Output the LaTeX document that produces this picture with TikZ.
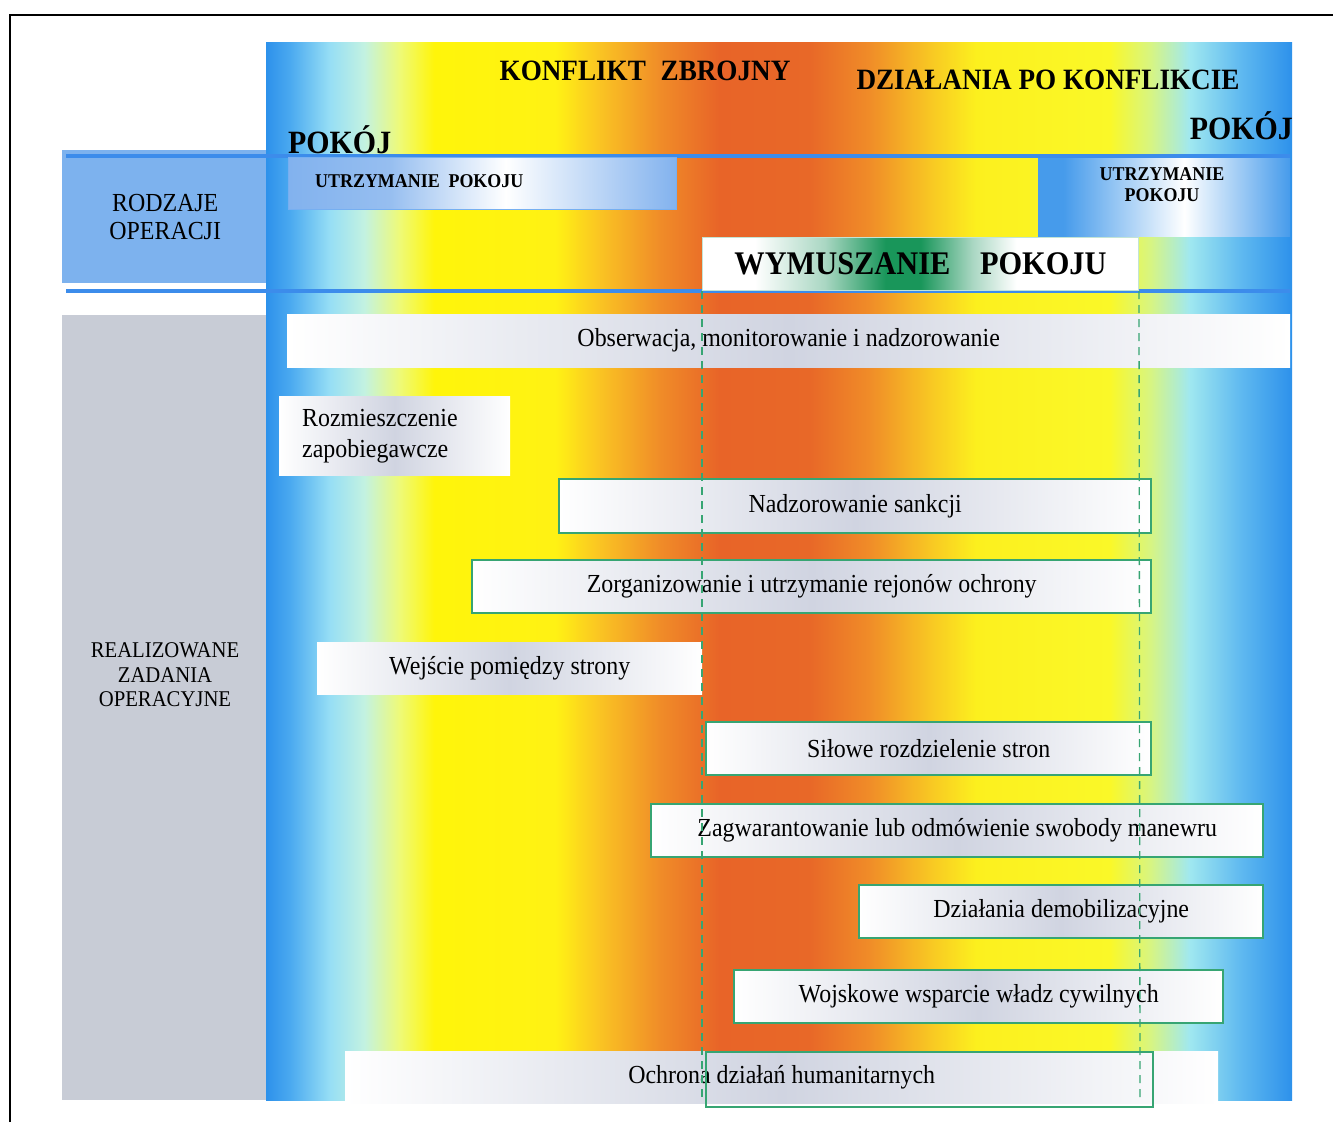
\documentclass[tikz,border=0pt]{standalone}
\usepackage{fontspec}
\setmainfont[FakeStretch=0.92]{Liberation Serif}
\usetikzlibrary{positioning}

\definecolor{bandA}{RGB}{45,145,235}
\definecolor{bandB}{RGB}{75,170,240}
\definecolor{bandC}{RGB}{150,222,245}
\definecolor{bandD}{RGB}{195,242,225}
\definecolor{bandE}{RGB}{238,250,120}
\definecolor{bandF}{RGB}{255,245,10}
\definecolor{bandG}{RGB}{255,242,20}
\definecolor{bandH}{RGB}{250,195,35}
\definecolor{bandI}{RGB}{240,140,40}
\definecolor{bandJ}{RGB}{232,100,40}
\definecolor{bandK}{RGB}{232,104,40}
\definecolor{bandL}{RGB}{240,140,40}
\definecolor{bandM}{RGB}{248,200,35}
\definecolor{bandN}{RGB}{252,240,30}
\definecolor{bandO}{RGB}{250,248,40}
\definecolor{bandP}{RGB}{215,245,130}
\definecolor{bandQ}{RGB}{160,232,240}
\definecolor{bandR}{RGB}{95,185,240}
\definecolor{opblue}{RGB}{125,178,238}
\definecolor{lineblue}{RGB}{60,140,235}
\definecolor{panelgray}{RGB}{200,204,214}
\definecolor{boxgreen}{RGB}{55,165,115}
\definecolor{taskgray}{RGB}{208,212,225}
\definecolor{utlA}{RGB}{130,178,238}
\definecolor{utlB}{RGB}{150,190,240}
\definecolor{utrA}{RGB}{70,155,235}
\definecolor{wymG}{RGB}{25,150,90}
\definecolor{wymL}{RGB}{170,215,195}

\pgfdeclarehorizontalshading{spectrum}{100bp}{%
color(0bp)=(bandA); color(25bp)=(bandA); color(26.2bp)=(bandB);
color(28.1bp)=(bandC); color(29.8bp)=(bandD); color(31.5bp)=(bandE);
color(33.2bp)=(bandF); color(39.1bp)=(bandG); color(41.3bp)=(bandH);
color(44.2bp)=(bandI); color(47.1bp)=(bandJ); color(51.5bp)=(bandK);
color(54.4bp)=(bandL); color(57.4bp)=(bandM); color(59.6bp)=(bandN);
color(66.1bp)=(bandO); color(68.1bp)=(bandP); color(70bp)=(bandQ);
color(72.5bp)=(bandR); color(75bp)=(bandA); color(100bp)=(bandA)}

\pgfdeclarehorizontalshading{utlshade}{100bp}{%
color(0bp)=(utlA); color(25bp)=(utlA); color(38bp)=(utlB);
color(53bp)=(white); color(75bp)=(utlA); color(100bp)=(utlA)}

\pgfdeclarehorizontalshading{utrshade}{100bp}{%
color(0bp)=(utrA); color(25bp)=(utrA); color(30bp)=(utrA); color(54bp)=(white);
color(75bp)=(utrA); color(100bp)=(utrA)}

\pgfdeclarehorizontalshading{wymshade}{100bp}{%
color(0bp)=(white); color(25bp)=(white); color(31bp)=(white);
color(39bp)=(wymL); color(46bp)=(wymG); color(50bp)=(wymG);
color(56bp)=(wymL); color(61bp)=(white); color(75bp)=(white); color(100bp)=(white)}

\newcommand\tasksize{\fontsize{26}{31}\selectfont}
\newcommand\headsize{\fontsize{29.5}{32}\selectfont\bfseries}
\newcommand\pokojsize{\fontsize{32.5}{34}\selectfont\bfseries}
\newcommand\utsize{\fontsize{19.5}{21}\selectfont\bfseries}
\newcommand\wymsize{\fontsize{33}{35}\selectfont\bfseries}
\newcommand\sidesize{\fontsize{26}{28}\selectfont}
\newcommand\realsize{\fontsize{22.5}{24.5}\selectfont}

\begin{document}
\begin{tikzpicture}[x=1pt,y=-1pt,
  every node/.style={inner sep=0pt, text=black},
  taskbox/.style={anchor=north west, left color=white, right color=white,
    middle color=taskgray, font=\tasksize, align=center},
  greenedge/.style={draw=boxgreen, line width=2.4pt},
  guide/.style={draw=boxgreen, line width=1.3pt, dash pattern=on 8pt off 6pt},
  blueline/.style={draw=lineblue, line width=4pt},
  headtxt/.style={font=\headsize}]

\useasboundingbox[fill=white] (0,0) rectangle (1333,1122);

% outer frame
\draw[line width=2pt] (10,1122) -- (10,15) -- (1333,15);

% left side panels
\node[anchor=north west, fill=opblue, minimum width=206pt, minimum height=133pt,
  font=\sidesize, align=center] (rodz) at (62,150) {RODZAJE\\OPERACJI};
\node[anchor=north west, fill=panelgray, minimum width=206pt, minimum height=785pt] (realp) at (62,315) {};
\node[font=\realsize, align=center] (realt) at (165,675) {REALIZOWANE\\ZADANIA\\OPERACYJNE};

% main spectrum band
\path[shade, shading=spectrum] (266,42) rectangle (1292,1100);

% headings
\node[headtxt] (konf) at (645,71) {KONFLIKT\hspace{0.5em}ZBROJNY};
\node[headtxt] (dzial) at (1048,80) {DZIAŁANIA PO KONFLIKCIE};
\node[font=\pokojsize, anchor=base west] (pokl) at (288,153) {POKÓJ};
\node[font=\pokojsize, anchor=base east] (pokr) at (1293,139) {POKÓJ};

% blue separator lines
\coordinate (l1a) at (66,156);
\coordinate (l1b) at (1290,156);
\coordinate (l2a) at (66,291);
\coordinate (l2b) at (1290,291);
\draw[blueline] (l1a) -- (l1b);
\draw[blueline] (l2a) -- (l2b);

% types of operations
\node[anchor=north west, shade, shading=utlshade, draw=lineblue!70, line width=1pt,
  minimum width=388pt, minimum height=52pt] (utl) at (288,157) {};
\node[font=\utsize, anchor=base west] (utltxt) at (315,187) {UTRZYMANIE\hspace{0.45em}POKOJU};
\node[anchor=north west, shade, shading=utrshade, minimum width=252pt, minimum height=78pt] (utr) at (1038,158) {};
\node[font=\utsize, align=center, anchor=north] (utrtxt) at (1162,167) {UTRZYMANIE\\POKOJU};
\node[anchor=north west, shade, shading=wymshade, draw=white!70!boxgreen, line width=1pt,
  minimum width=436pt, minimum height=53pt, font=\wymsize] (wym) at (702,237) {WYMUSZANIE\hspace{0.9em}POKOJU};

% tasks
\node[taskbox, minimum width=1003pt, minimum height=53pt] (obs) at (287,314)
  {Obserwacja, monitorowanie i nadzorowanie};
\node[taskbox, minimum width=231pt, minimum height=79pt, text width=185pt, align=left,
  inner xsep=23pt] (roz) at (279,396) {Rozmieszczenie\\zapobiegawcze};
\node[taskbox, greenedge, minimum width=592pt, minimum height=54pt] (nad) at (558,478)
  {Nadzorowanie sankcji};
\node[taskbox, greenedge, minimum width=679pt, minimum height=53pt] (zor) at (471,559)
  {Zorganizowanie i utrzymanie rejonów ochrony};
\node[taskbox, minimum width=385pt, minimum height=52pt] (wej) at (317,642)
  {Wejście pomiędzy strony};
\node[taskbox, greenedge, minimum width=445pt, minimum height=53pt] (sil) at (705,721)
  {Siłowe rozdzielenie stron};
\node[taskbox, greenedge, minimum width=612pt, minimum height=53pt] (zag) at (650,803)
  {Zagwarantowanie lub odmówienie swobody manewru};
\node[taskbox, greenedge, minimum width=404pt, minimum height=53pt] (dem) at (858,884)
  {Działania demobilizacyjne};
\node[taskbox, greenedge, minimum width=489pt, minimum height=53pt] (woj) at (733,969)
  {Wojskowe wsparcie władz cywilnych};
\node[taskbox, minimum width=873pt, minimum height=52pt] (och) at (345,1051)
  {Ochrona działań humanitarnych};
\node[anchor=north west, draw=boxgreen, line width=2.4pt, minimum width=447pt,
  minimum height=55pt] (ochg) at (705,1051) {};

% dashed guide lines of the peace-enforcement phase
\coordinate (g1) at (702,1100);
\coordinate (g2) at (1140,1100);
\draw[guide] (wym.south west) -- (g1);
\draw[guide] (wym.south east) -- (g2);

\end{tikzpicture}
\end{document}
